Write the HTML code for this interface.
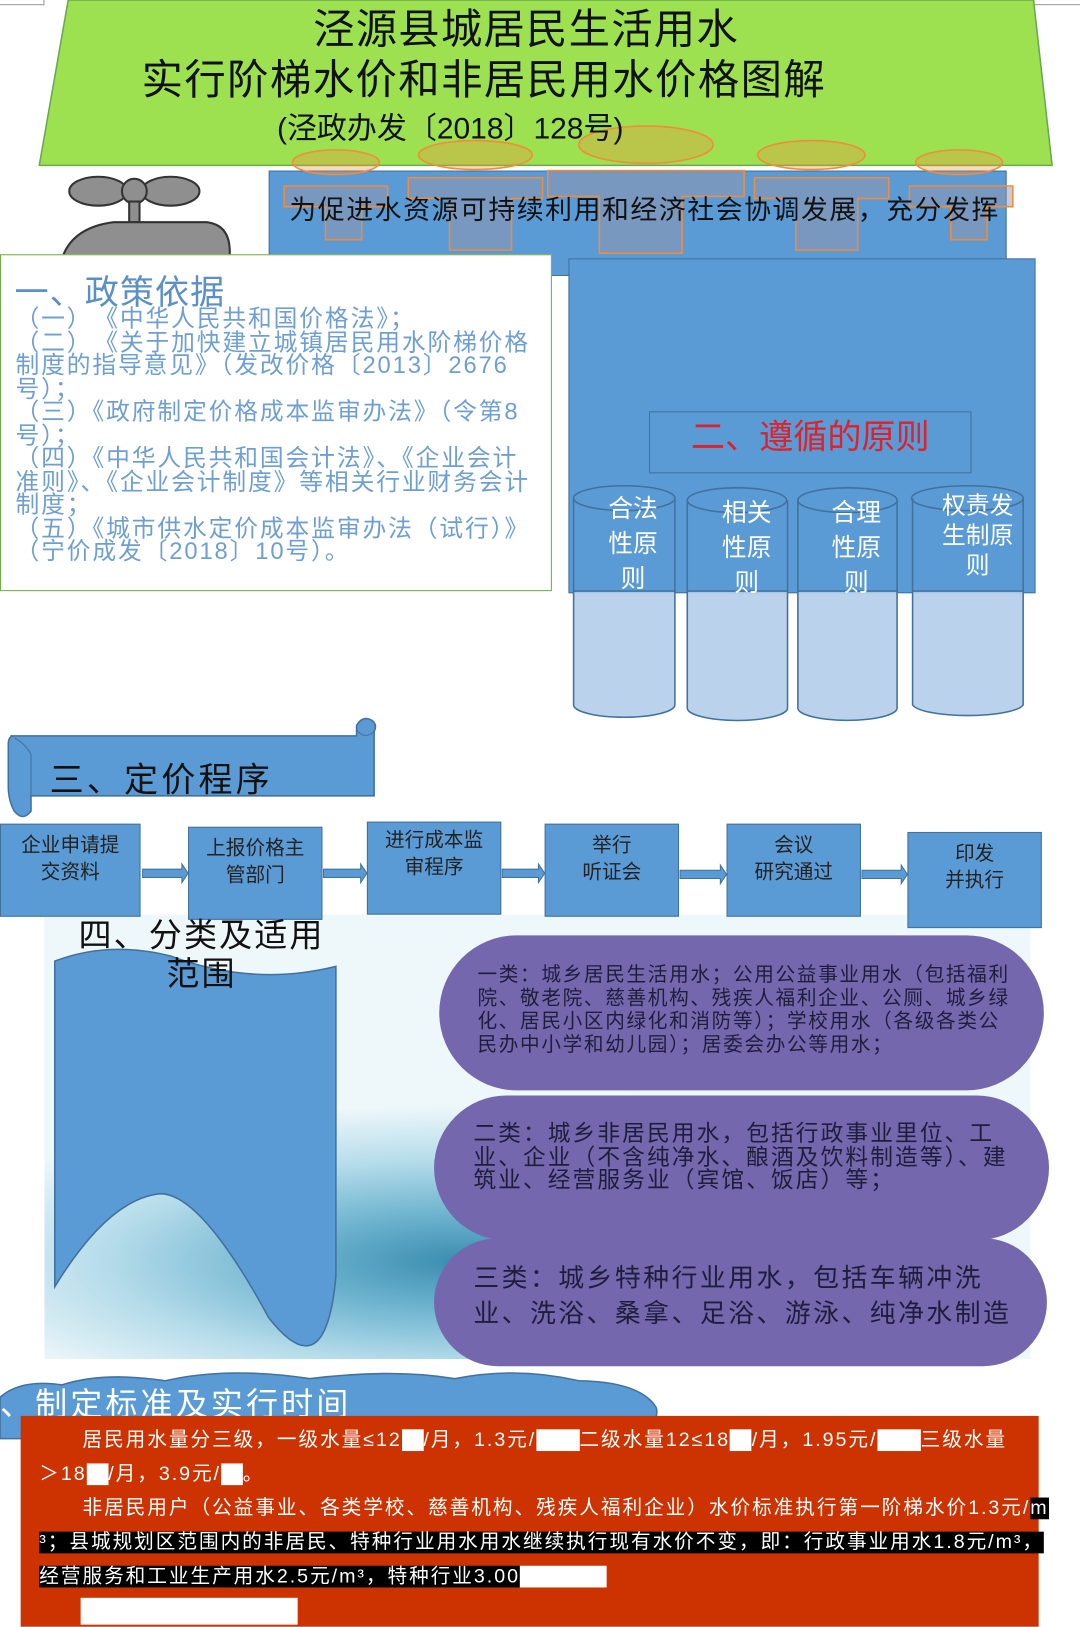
<!DOCTYPE html>
<html><head><meta charset="utf-8"><style>
html,body{margin:0;padding:0;width:1080px;height:1626px;overflow:hidden;background:#fff}
#w{position:absolute;left:0;top:0;width:1045px;height:1574px;transform:scale(1.0335);transform-origin:0 0;font-family:"Liberation Sans","Noto Sans CJK SC",sans-serif}
.a{position:absolute;white-space:nowrap}
.box{position:absolute;background:#5b9bd5;border:1px solid #41719c;color:#222;text-align:center;font-size:19px;line-height:26px;box-sizing:border-box}
.pur{position:absolute;background:#7467ae;border-radius:90px;color:#1e1e3a;box-sizing:border-box;white-space:nowrap}
</style></head><body><div id="w">
<div class="a" style="left:0;top:0;width:42px;height:4px;border:1px solid #999;border-top:none;border-left:none"></div>
<div class="a" style="left:1000px;top:0;width:45px;height:4px;border:1px solid #999;border-top:none;border-right:none"></div>
<div class="a" style="left:260px;top:165px;width:712px;height:100px;background:#5b9bd5;border:1px solid #41719c"></div>
<svg class="a" style="left:0;top:0" width="1045" height="270">
<polygon points="66,0 1000,0 1018,160 38,160" fill="#9de151" stroke="#6aa84f" stroke-width="1.5"/>
<g fill="rgba(240,150,60,0.35)" stroke="#f08c3c" stroke-width="1.5">
<ellipse cx="325" cy="157" rx="42" ry="12"/><ellipse cx="460" cy="150" rx="55" ry="14"/>
<ellipse cx="625" cy="140" rx="65" ry="18"/><ellipse cx="785" cy="150" rx="52" ry="14"/><ellipse cx="928" cy="157" rx="42" ry="12"/>
</g>
<g fill="rgba(150,150,170,0.5)" stroke="#f08c3c" stroke-width="1.5">
<path d="M275 180 h100 v20 h-25 v32 h-35 v-32 h-40z"/>
<path d="M395 172 h130 v20 h-30 v50 h-60 v-50 h-40z"/>
<path d="M530 165 h190 v25 h-60 v55 h-80 v-55 h-50z"/>
<path d="M730 172 h130 v20 h-30 v50 h-60 v-50 h-40z"/>
<path d="M880 180 h100 v20 h-25 v32 h-35 v-32 h-40z"/>
</g>
</svg>
<div class="a" style="left:303px;top:4px;font-size:40px;letter-spacing:1.2px;line-height:50px;color:#111">泾源县城居民生活用水</div>
<div class="a" style="left:137px;top:53px;font-size:40px;letter-spacing:1.4px;line-height:50px;color:#111">实行阶梯水价和非居民用水价格图解</div>
<div class="a" style="left:268px;top:106px;font-size:29px;line-height:38px;color:#111">(泾政办发〔2018〕128号)</div>
<div class="a" style="left:280px;top:183px;font-size:26px;letter-spacing:1.5px;color:#111">为促进水资源可持续利用和经济社会协调发展，充分发挥</div>
<svg class="a" style="left:50px;top:160px" width="180" height="90">
<g fill="#8f8f8f" stroke="#333" stroke-width="2">
<ellipse cx="45" cy="25" rx="28" ry="14"/><ellipse cx="115" cy="25" rx="28" ry="14"/><circle cx="80" cy="25" r="12"/>
<rect x="75" y="35" width="10" height="20"/>
<path d="M10 90 Q20 60 60 55 L150 55 Q175 58 172 90z"/>
</g></svg>
<div class="a" style="left:0;top:246px;width:534px;height:326px;background:#fff;border:1.5px solid #70ad47;box-sizing:border-box"></div>
<div class="a" style="left:14px;top:256px;font-size:33px;letter-spacing:1px;color:#5a8fc7">一、政策依据</div>
<div class="a" style="left:15px;top:297px;font-size:23px;letter-spacing:1.8px;line-height:22.5px;color:#6f9fd2">（一）　《中华人民共和国价格法》；<br>（二）　《关于加快建立城镇居民用水阶梯价格<br>制度的指导意见》（发改价格〔2013〕2676<br>号）；<br>（三）《政府制定价格成本监审办法》（令第8<br>号）；<br>（四）《中华人民共和国会计法》、《企业会计<br>准则》、《企业会计制度》等相关行业财务会计<br>制度；<br>（五）《城市供水定价成本监审办法（试行）》<br>（宁价成发〔2018〕10号）。</div>
<div class="a" style="left:550px;top:250px;width:450px;height:322px;background:#5b9bd5;border:1px solid #41719c"></div>
<div class="a" style="left:628px;top:398px;width:310px;height:58px;border:1px solid #41719c;color:#e0202a;font-size:33px;text-align:center;line-height:48px">二、遵循的原则</div>
<svg class="a" style="left:550px;top:460px" width="450" height="245">
<g stroke="#41719c" stroke-width="1.5">
<g fill="rgba(180,205,235,0.9)">
<path d="M5 112 V222 A49 12 0 0 0 103 222 V112z"/><path d="M115 112 V225 A48 12 0 0 0 212 225 V112z"/>
<path d="M222 112 V225 A48 12 0 0 0 318 225 V112z"/><path d="M333 112 V222 A54 12 0 0 0 440 222 V112z"/>
</g>
<g fill="none"><path d="M5 22 V112 M103 22 V112 M115 24 V112 M212 24 V112 M222 24 V112 M318 24 V112 M333 22 V112 M440 22 V112"/>
<ellipse cx="54" cy="22" rx="49" ry="12"/><ellipse cx="163" cy="24" rx="48" ry="12"/><ellipse cx="270" cy="24" rx="48" ry="12"/><ellipse cx="386" cy="22" rx="54" ry="12"/></g>
</g></svg>
<div class="a" style="left:580px;top:476px;width:65px;white-space:normal;font-size:24px;line-height:34px;color:#fff;text-align:center">合法性原则</div>
<div class="a" style="left:690px;top:480px;width:65px;white-space:normal;font-size:24px;line-height:34px;color:#fff;text-align:center">相关性原则</div>
<div class="a" style="left:796px;top:480px;width:65px;white-space:normal;font-size:24px;line-height:34px;color:#fff;text-align:center">合理性原则</div>
<div class="a" style="left:905px;top:475px;width:82px;white-space:normal;font-size:23px;line-height:29px;color:#fff;text-align:center">权责发生制原则</div>
<svg class="a" style="left:0;top:690px" width="380" height="110">
<path d="M10 22 H345 V12 Q350 3 358 6 Q366 10 362 18 V80 H30 V95 Q22 105 14 95 Q8 85 8 70 V30 Q8 22 14 22z" fill="#5b9bd5" stroke="#41719c" stroke-width="1.5"/>
<path d="M345 16 Q352 26 362 18" fill="none" stroke="#41719c"/><path d="M14 24 Q25 30 30 40 V80" fill="none" stroke="#41719c"/>
</svg>
<div class="a" style="left:48px;top:728px;font-size:33px;letter-spacing:3px;color:#111">三、定价程序</div>
<div class="a" style="left:43px;top:885px;width:954px;height:430px;background:radial-gradient(ellipse 55% 35% at 42% 78%,#3b8db0 0%,#6db3cf 30%,#b5dcea 65%,#eef7fa 100%)"></div>
<div class="box" style="left:0;top:797px;width:136px;height:90px;padding-top:8px">企业申请提<br>交资料</div>
<div class="box" style="left:182px;top:800px;width:130px;height:90px;padding-top:8px">上报价格主<br>管部门</div>
<div class="box" style="left:355px;top:795px;width:130px;height:90px;padding-top:5px">进行成本监<br>审程序</div>
<div class="box" style="left:527px;top:797px;width:130px;height:90px;padding-top:8px">举行<br>听证会</div>
<div class="box" style="left:703px;top:797px;width:130px;height:90px;padding-top:8px">会议<br>研究通过</div>
<div class="box" style="left:878px;top:805px;width:130px;height:93px;padding-top:8px">印发<br>并执行</div>
<svg class="a" style="left:0;top:830px" width="1045" height="30">
<g fill="#5b9bd5" stroke="#41719c">
<path d="M138 11 h38 v-5 l6 9 l-6 9 v-5 h-38z"/><path d="M313 11 h36 v-5 l6 9 l-6 9 v-5 h-36z"/>
<path d="M486 11 h35 v-5 l6 9 l-6 9 v-5 h-35z"/><path d="M658 12 h39 v-5 l6 9 l-6 9 v-5 h-39z"/><path d="M834 12 h38 v-5 l6 9 l-6 9 v-5 h-38z"/>
</g></svg>
<svg class="a" style="left:45px;top:915px" width="290" height="395">
<path d="M8 15 Q60 -5 120 10 Q200 40 280 20 V320 Q270 430 215 360 Q150 240 110 240 Q60 245 8 330z" fill="#5b9bd5" stroke="#41719c" stroke-width="1.5"/>
</svg>
<div class="a" style="left:60px;top:887px;width:270px;text-align:center;font-size:32px;letter-spacing:2px;line-height:37px;color:#111">四、分类及适用<br>范围</div>
<div class="pur" style="left:425px;top:905px;width:585px;height:150px;padding:28px 0 0 37px;font-size:19px;letter-spacing:1.6px;line-height:22.5px">一类：城乡居民生活用水；公用公益事业用水（包括福利<br>院、敬老院、慈善机构、残疾人福利企业、公厕、城乡绿<br>化、居民小区内绿化和消防等）；学校用水（各级各类公<br>民办中小学和幼儿园）；居委会办公等用水；</div>
<div class="pur" style="left:420px;top:1060px;width:595px;height:140px;padding:26px 0 0 38px;font-size:22px;letter-spacing:2px;line-height:22.5px">二类：城乡非居民用水，包括行政事业里位、工<br>业、企业（不含纯净水、酿酒及饮料制造等）、建<br>筑业、经营服务业（宾馆、饭店）等；</div>
<div class="pur" style="left:420px;top:1198px;width:593px;height:124px;padding:22px 0 0 38px;font-size:25px;letter-spacing:2.4px;line-height:34px">三类：城乡特种行业用水，包括车辆冲洗<br>业、洗浴、桑拿、足浴、游泳、纯净水制造</div>
<svg class="a" style="left:0;top:1322px" width="650" height="80">
<path d="M0 30 Q20 12 60 18 Q100 5 160 14 Q220 0 300 12 Q380 2 440 12 Q500 0 560 14 Q620 15 635 40 Q640 60 600 70 H0z" fill="#5b9bd5" stroke="#41719c" stroke-width="1.5"/>
</svg>
<div class="a" style="left:0;top:1333px;font-size:31px;letter-spacing:3px;color:#fff">、制定标准及实行时间</div>
<div class="a" style="left:20px;top:1370px;width:985px;height:204px;background:#cc3300"></div>
<div class="a" style="left:38px;top:1377px;font-size:19px;letter-spacing:1.9px;line-height:33px;color:#fff">
<div>　　居民用水量分三级，一级水量≤12<span style="background:#fff">　</span>/月，1.3元/<span style="background:#fff">　　</span>二级水量12≤18<span style="background:#fff">　</span>/月，1.95元/<span style="background:#fff">　　</span>三级水量</div>
<div>＞18<span style="background:#fff">　</span>/月，3.9元/<span style="background:#fff">　</span>。</div>
<div>　　非居民用户（公益事业、各类学校、慈善机构、残疾人福利企业）水价标准执行第一阶梯水价1.3元/<span style="background:#000">m</span></div>
<div><span style="background:#000">³；县城规划区范围内的非居民、特种行业用水用水继续执行现有水价不变，即：行政事业用水1.8元/m³，</span></div>
<div><span style="background:#000">经营服务和工业生产用水2.5元/m³，特种行业3.00</span><span style="background:#fff">　　　　</span></div>
<div style="margin-left:40px;margin-top:4px;width:210px;height:26px;background:#fff"></div>
</div>
</div></body></html>
